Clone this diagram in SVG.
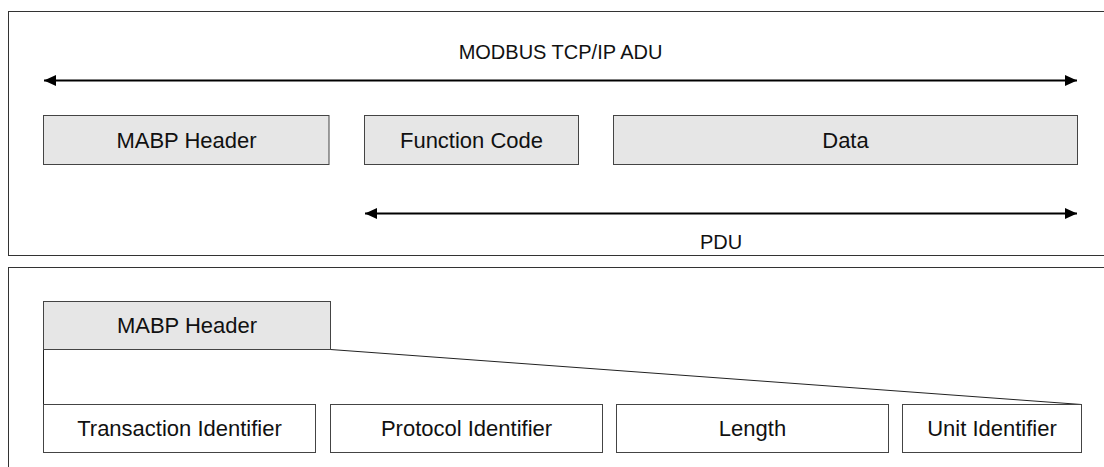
<svg xmlns="http://www.w3.org/2000/svg" width="1104" height="467" viewBox="0 0 1104 467">
<defs>
<style>
.panel{fill:#fff;stroke:#333;stroke-width:1}
.box{fill:#e6e6e6;stroke:#444;stroke-width:1}
.wbox{fill:#fff;stroke:#444;stroke-width:1}
.t{font-family:"Liberation Sans",Arial,sans-serif;font-size:22px;fill:#111;text-anchor:middle}
.lbl{font-family:"Liberation Sans",Arial,sans-serif;font-size:20px;fill:#111;text-anchor:middle}
.arr{stroke:#000;stroke-width:2;fill:none}
.ln{stroke:#222;stroke-width:1;fill:none}
</style>
<marker id="ah" viewBox="0 0 12 11" refX="12" refY="5.5" markerWidth="12" markerHeight="11" markerUnits="userSpaceOnUse" orient="auto-start-reverse">
<path d="M0,0 L12,5.5 L0,11 Z" fill="#000"/>
</marker>
</defs>
<rect width="1104" height="467" fill="#fff"/>
<g id="panel-top"><rect class="panel" x="8.5" y="11.5" width="1110" height="244"/></g>
<g id="panel-bottom"><rect class="panel" x="8.5" y="267.5" width="1110" height="220"/></g>
<g id="labels">
<text class="lbl" x="560.5" y="58.5">MODBUS TCP/IP ADU</text>
<text class="lbl" x="721" y="249">PDU</text>
</g>
<g id="connectors">
<line class="arr" x1="44" y1="80.5" x2="1077" y2="80.5" marker-start="url(#ah)" marker-end="url(#ah)"/>
<line class="arr" x1="365" y1="213.5" x2="1077" y2="213.5" marker-start="url(#ah)" marker-end="url(#ah)"/>
<line class="ln" x1="43.5" y1="349.5" x2="43.5" y2="404.5"/>
<line class="ln" x1="330.5" y1="349.5" x2="1081.5" y2="404.5"/>
</g>
<g id="adu-mabp"><rect class="box" x="43.5" y="115.5" width="285.5" height="49"/><text class="t" x="186.5" y="147.5">MABP Header</text></g>
<g id="adu-fc"><rect class="box" x="364.5" y="115.5" width="214" height="49"/><text class="t" x="471.5" y="147.5">Function Code</text></g>
<g id="adu-data"><rect class="box" x="613.5" y="115.5" width="464" height="49"/><text class="t" x="845.5" y="147.5">Data</text></g>
<g id="hdr-mabp"><rect class="box" x="43.5" y="301.5" width="287" height="48"/><text class="t" x="187" y="332.5">MABP Header</text></g>
<g id="hdr-tid"><rect class="wbox" x="43.5" y="404.5" width="272" height="48"/><text class="t" x="179.5" y="435.5">Transaction Identifier</text></g>
<g id="hdr-pid"><rect class="wbox" x="330.5" y="404.5" width="272" height="48"/><text class="t" x="466.5" y="435.5">Protocol Identifier</text></g>
<g id="hdr-len"><rect class="wbox" x="616.5" y="404.5" width="272" height="48"/><text class="t" x="752.5" y="435.5">Length</text></g>
<g id="hdr-uid"><rect class="wbox" x="902.5" y="404.5" width="179" height="48"/><text class="t" x="992" y="435.5">Unit Identifier</text></g>
</svg>
